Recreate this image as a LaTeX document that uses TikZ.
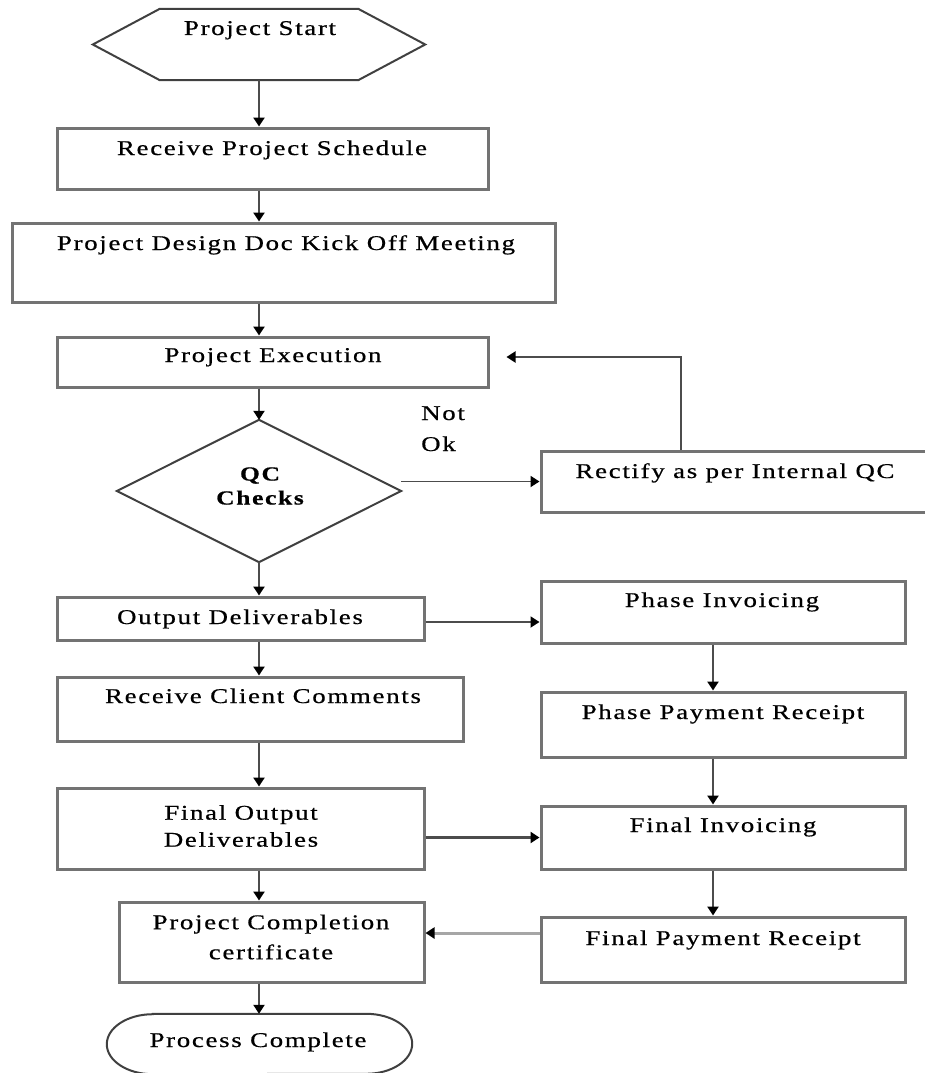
\documentclass[tikz,border=0pt]{standalone}
\usepackage{fontspec}
\setmainfont{Liberation Serif}[FakeStretch=1.28,LetterSpace=8,FakeBold=0.6]
\usetikzlibrary{arrows.meta}
\begin{document}
\begin{tikzpicture}[x=1pt,y=-1pt,
  box/.style={draw=black!55, line width=3pt, inner sep=0pt},
  ghost/.style={inner sep=0pt},
  outline/.style={draw=black!75, line width=2pt, line join=miter},
  txt/.style={font=\fontsize{21}{24}\selectfont, inner sep=0pt, text height=14pt, text depth=4pt},
  txttwo/.style={font=\fontsize{21}{27}\selectfont, inner sep=0pt, align=center},
  link/.style={draw=black!70, line width=2.6pt, -{Triangle[width=11pt,length=9pt,color=black]}},
]
\useasboundingbox (0,0) rectangle (925,1073);
\clip (0,0) rectangle (925,1073);

% vertical guide lines of the two columns
\coordinate (spine) at (259,0);
\coordinate (rspine) at (713,0);
\coordinate (fb) at (681,0);

% start terminal (hexagon)
\node[ghost, minimum width=332pt, minimum height=71pt] (start) at (259,44.5) {};
\draw[outline] (start.west) -- ([xshift=67pt]start.north west) -- ([xshift=-67pt]start.north east)
  -- (start.east) -- ([xshift=-67pt]start.south east) -- ([xshift=67pt]start.south west) -- cycle;
\node[txt] (startT) at (260,30) {Project Start};

% left column
\node[box, minimum width=431pt, minimum height=61pt] (sched) at (272.5,158.5) {};
\node[txt] (schedT) at (272,150) {Receive Project Schedule};

\node[box, minimum width=543pt, minimum height=79pt] (design) at (283.5,262.5) {};
\node[txt] (designT) at (286,245) {Project Design Doc Kick Off Meeting};

\node[box, minimum width=431pt, minimum height=50pt] (exec) at (272.5,362) {};
\node[txt] (execT) at (273,357) {Project Execution};

% decision
\node[ghost, minimum width=284pt, minimum height=142pt] (qc) at (259,491) {};
\draw[outline] (qc.north) -- (qc.east) -- (qc.south) -- (qc.west) -- cycle;
\node[txttwo, font=\fontsize{20}{24}\selectfont\bfseries] (qcT) at (260,486) {QC\\Checks};

\node[txt, anchor=west] (notT) at (421,415) {Not};
\node[txt, anchor=west] (okT) at (421,446) {Ok};

\node[box, minimum width=394pt, minimum height=61pt] (rect) at (738,481.5) {};
\node[txt] (rectT) at (735,473) {Rectify as per Internal QC};

\node[box, minimum width=367pt, minimum height=43pt] (outp) at (240.5,618.5) {};
\node[txt] (outpT) at (240,619) {Output Deliverables};

\node[box, minimum width=406pt, minimum height=64pt] (client) at (260,709) {};
\node[txt] (clientT) at (263,698) {Receive Client Comments};

\node[box, minimum width=367pt, minimum height=81pt] (finout) at (240.5,828.5) {};
\node[txttwo] (finoutT) at (241,826) {Final Output\\Deliverables};

\node[box, minimum width=305pt, minimum height=80pt] (compl) at (271.5,942) {};
\node[txttwo] (complT) at (271,937) {Project Completion\\[3pt]certificate};

% end terminal
\node[ghost, minimum width=305pt, minimum height=60pt] (proc) at (259.5,1044) {};
\draw[outline] ([xshift=46pt]proc.north west) -- ([xshift=-46pt]proc.north east)
  arc[start angle=90, end angle=-90, x radius=46pt, y radius=30pt]
  -- ([xshift=46pt]proc.south west)
  arc[start angle=270, end angle=90, x radius=46pt, y radius=30pt] -- cycle;
\node[txt] (procT) at (258,1042) {Process Complete};

% right column
\node[box, minimum width=364pt, minimum height=62pt] (phinv) at (723,612) {};
\node[txt] (phinvT) at (722,602) {Phase Invoicing};

\node[box, minimum width=364pt, minimum height=65pt] (phpay) at (723,724.5) {};
\node[txt] (phpayT) at (723,714) {Phase Payment Receipt};

\node[box, minimum width=364pt, minimum height=63pt] (fininv) at (723,837.5) {};
\node[txt] (fininvT) at (723,827) {Final Invoicing};

\node[box, minimum width=364pt, minimum height=65pt] (finpay) at (723,949.5) {};
\node[txt] (finpayT) at (723,940) {Final Payment Receipt};

% main flow
\draw[link] (spine |- start.south) -- (spine |- sched.north);
\draw[link] (spine |- sched.south) -- (spine |- design.north);
\draw[link] (spine |- design.south) -- (spine |- exec.north);
\draw[link] (spine |- exec.south) -- (qc.north);
\draw[link, line width=1.8pt] (qc.east |- rect.west) -- (rect.west);
\draw[link, line width=2pt] (fb |- rect.north) |- ([xshift=17pt,yshift=5pt]exec.east);
\draw[link] (qc.south) -- (spine |- outp.north);
\draw[link] (spine |- outp.south) -- (spine |- client.north);
\draw[link] (spine |- client.south) -- (spine |- finout.north);
\draw[link] (spine |- finout.south) -- (spine |- compl.north);
\draw[link] (spine |- compl.south) -- (spine |- proc.north);

% invoicing flow
\draw[link, line width=1.8pt] ([yshift=-3.5pt]outp.east) -- ([yshift=-3.5pt]outp.east -| phinv.west);
\draw[link] (rspine |- phinv.south) -- (rspine |- phpay.north);
\draw[link] (rspine |- phpay.south) -- (rspine |- fininv.north);
\draw[link, line width=3pt] (finout.east |- fininv.west) -- (fininv.west);
\draw[link] (rspine |- fininv.south) -- (rspine |- finpay.north);
\draw[link, draw=black!35, line width=3pt] ([yshift=16.5pt]finpay.west) -- ([yshift=16.5pt]finpay.west -| compl.east);
\end{tikzpicture}
\end{document}
